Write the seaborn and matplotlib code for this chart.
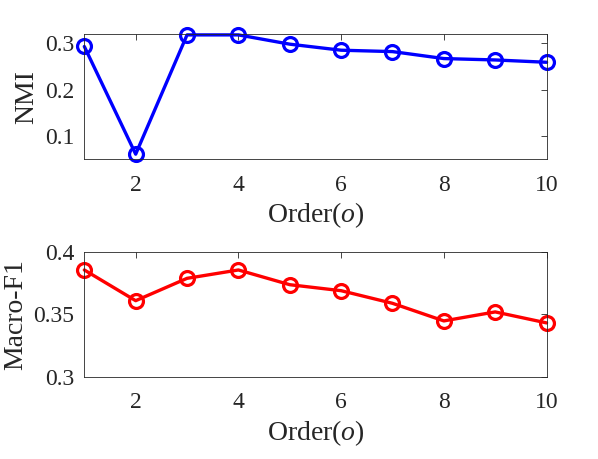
import matplotlib
matplotlib.use("Agg")
import matplotlib.pyplot as plt
import pandas as pd
import seaborn as sns

order = [1, 2, 3, 4, 5, 6, 7, 8, 9, 10]
nmi = [0.293, 0.061, 0.318, 0.318, 0.298, 0.285, 0.282, 0.267, 0.264, 0.259]
macro_f1 = [0.3856, 0.361, 0.3789, 0.3856, 0.3738, 0.369, 0.3589, 0.3448, 0.352, 0.3432]

sns.set_style("white")
plt.rcParams['font.family'] = ['Liberation Serif', 'DejaVu Serif']
plt.rcParams['mathtext.fontset'] = 'custom'
plt.rcParams['mathtext.rm'] = 'Liberation Serif'
plt.rcParams['mathtext.it'] = 'Liberation Serif:italic'

df = pd.DataFrame({'order': order, 'nmi': nmi, 'f1': macro_f1})

fig = plt.figure(figsize=(5.98, 4.59), dpi=100)
ax1 = fig.add_axes([0.141, 0.653, 0.773, 0.273])
ax2 = fig.add_axes([0.141, 0.179, 0.773, 0.272])

panels = [
    (ax1, 'nmi', 'NMI', '#0000ff', (0.05, 0.32), [0.1, 0.2, 0.3], ['0.1', '0.2', '0.3']),
    (ax2, 'f1', 'Macro-F1', '#ff0000', (0.3, 0.4), [0.3, 0.35, 0.4], ['0.3', '0.35', '0.4']),
]

for ax, col, label, color, ylim, yt, ytl in panels:
    sns.lineplot(data=df, x='order', y=col, ax=ax, color=color, linewidth=2.4,
                 marker='o', markersize=10, markerfacecolor='none',
                 markeredgecolor=color, markeredgewidth=2.3, clip_on=False)
    ax.set_xlim(1, 10)
    ax.set_ylim(*ylim)
    ax.set_xticks([2, 4, 6, 8, 10])
    ax.set_yticks(yt)
    ax.set_yticklabels(ytl)
    ax.set_xlabel('Order($\\it{o}$)', fontsize=20, color='#262626', labelpad=3.5)
    ax.set_ylabel(label, fontsize=20, color='#262626', labelpad=4)
    ax.tick_params(direction='in', length=4, width=0.6, top=True, right=True,
                   labelsize=17, colors='#262626')
    ax.tick_params(axis='y', pad=7)
    ax.tick_params(axis='x', pad=11)
    for s in ax.spines.values():
        s.set_visible(True)
        s.set_color('#262626')
        s.set_linewidth(0.6)

fig.savefig('out.png', dpi=100)
